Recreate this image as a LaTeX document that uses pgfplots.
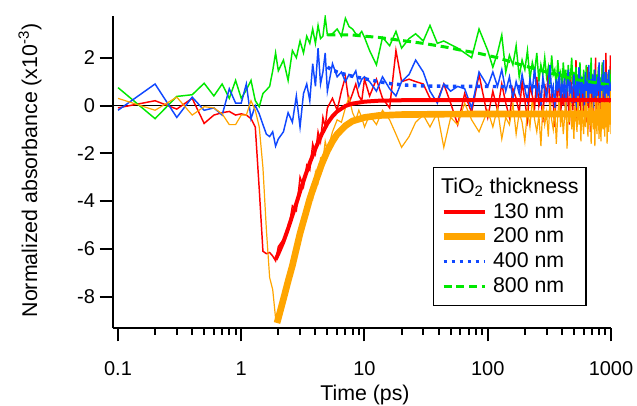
\documentclass[border=0pt]{standalone}
\usepackage{pgfplots}
\pgfplotsset{compat=1.18}
\usepackage{pgfplotstable}
\usepackage{fontspec}
\setmainfont{Liberation Sans}
\definecolor{cred}{RGB}{255,0,0}
\definecolor{corange}{RGB}{255,165,0}
\definecolor{cblue}{RGB}{16,72,255}
\definecolor{cgreen}{RGB}{0,232,0}

\pgfplotstableread{
t r o b g
0.1 -0.10 0.30 -0.20 0.75
0.2 0.20 -0.20 0.90 -0.55
0.3 -0.15 0.35 -0.50 0.38
0.4 0.30 -0.40 0.35 0.45
0.5 -0.75 -0.05 -0.20 0.93
0.6 -0.40 -0.10 -0.10 0.40
0.7 -0.30 -0.35 -0.40 0.90
0.8 -0.25 -0.80 0.70 0.30
0.9 -0.40 -0.80 0.10 1.05
1.0 -0.35 -0.40 0.10 0.30
1.1 -0.40 -0.40 0.90 0.65
1.2 -0.55 0.20 -0.55 1.05
1.3 -0.90 -0.20 0.00 0.20
1.4 -3.50 -0.90 -0.35 -0.05
1.5 -6.10 -2.60 -0.80 0.50
1.6 -6.20 -5.20 -1.20 0.65
1.7 -6.15 -7.20 -1.30 0.80
1.8 -6.30 -7.70 -1.10 1.45
1.9 -6.50 -8.90 -1.70 2.20
2.0 -5.90 -9.00 -1.40 1.45
2.2 -5.60 -8.20 -1.10 1.90
2.4 -5.30 -7.10 -0.30 1.05
2.6 -4.20 -6.90 -0.70 2.30
2.8 -4.40 -5.70 0.40 2.00
3.0 -3.00 -5.60 -0.90 2.70
3.2 -3.40 -4.70 0.50 2.20
3.4 -2.50 -4.50 0.90 2.90
3.6 -2.70 -3.60 0.20 2.60
3.8 -1.60 -3.90 1.75 3.20
4.0 -2.00 -2.80 0.80 2.60
4.2 -1.10 -3.20 2.40 3.35
4.4 -1.50 -2.20 0.90 2.80
4.6 -0.50 -2.30 1.40 2.90
4.8 -0.90 -1.50 2.20 3.70
5.0 -0.10 -1.90 0.60 2.95
5.5 0.30 -1.10 1.75 3.00
6.0 -0.20 -0.60 1.20 3.20
6.5 0.60 -0.70 1.40 2.90
7.0 1.20 -0.10 1.00 3.65
7.5 0.10 0.35 1.30 3.30
8.0 0.50 -0.30 1.20 3.20
8.5 0.90 -0.60 1.45 3.00
9.0 0.40 -0.20 0.80 2.95
9.5 0.20 -0.50 1.10 3.10
10 1.10 -0.90 1.20 2.85
11 0.40 -0.40 1.00 2.30
12.5 1.10 -0.80 0.60 1.70
14 0.30 -0.20 1.20 2.85
16 -0.10 -0.60 0.70 2.50
18 2.30 -1.20 0.40 3.10
20 1.00 -1.75 1.00 2.40
23 1.10 -1.30 1.30 2.80
26 1.00 -0.70 1.90 3.00
30 0.90 -0.40 1.40 2.70
34 0.30 -0.90 0.60 3.35
39 0.20 -0.30 0.10 2.60
44 0.90 -1.75 0.90 2.70
50 0.10 -0.50 0.60 2.55
57 -0.80 -0.80 0.80 2.40
65 0.50 0.10 0.70 2.20
74 -0.30 -0.60 -0.10 2.00
85 1.30 -1.10 1.40 3.20
100 -0.50 -0.20 0.80 2.30
110 0.6 -0.9 1.4 1.6
120 -0.2 -0.1 0.8 2.2
130 0.9 -1.4 1.5 2.95
140 0.1 -0.5 0.6 1.4
150 -0.5 -0.8 1.2 2.1
160 0.7 0.1 0.3 1.7
170 0.3 -1.2 1.0 2.5
180 -0.3 -0.3 0.5 1.2
190 1.0 -0.7 1.3 1.9
200 0.2 -1.5 0.7 1.5
210 -0.6 -0.2 0.2 2.3
220 0.8 -0.9 1.1 1.1
230 0.4 0.3 0.6 1.8
240 -0.1 -0.6 1.6 1.4
250 1.2 -1.1 0.4 2.2
260 0.0 -0.4 0.9 1.0
270 0.5 -1.7 0.0 1.7
280 -0.7 0.0 1.2 1.3
290 0.9 -0.8 0.7 2.0
300 0.3 -0.3 0.3 1.2
310 1.5 -1.3 1.0 1.6
320 -0.3 0.2 1.7 0.9
330 0.6 -0.6 0.5 2.1
340 0.1 -1.0 0.8 1.3
350 -0.9 -0.1 -0.1 1.5
360 0.8 -1.6 1.1 0.8
370 0.4 -0.4 0.6 1.9
380 1.3 0.4 1.4 1.2
390 -0.4 -0.9 0.2 1.4
400 0.5 -0.2 0.9 0.7
410 0.0 -1.2 0.5 1.8
420 1.1 -0.5 1.2 1.1
430 -0.5 0.3 -0.2 1.5
440 0.7 -1.8 0.8 0.6
450 0.2 -0.3 1.5 1.7
460 -0.8 -0.7 0.4 1.0
470 1.4 0.5 1.0 1.3
480 0.3 -1.0 0.1 2.0
490 -0.2 -0.4 0.7 0.9
500 0.9 -1.4 1.3 1.4
510 0.1 0.1 0.6 0.7
520 1.9 -0.6 -0.1 1.6
530 -0.6 -1.1 1.1 1.0
540 0.6 0.4 0.4 1.3
550 0.0 -0.8 1.6 0.5
560 1.0 -0.2 0.8 1.8
570 -1.0 -1.5 0.2 0.9
580 0.5 0.2 1.2 1.2
590 1.2 -0.7 0.5 0.6
600 -0.3 -1.2 0.9 1.5
610 0.8 0.0 -0.2 1.0
620 0.2 -0.9 1.4 0.4
630 -0.7 0.6 0.6 1.7
640 1.6 -0.5 1.0 0.8
650 0.4 -1.3 0.1 1.1
660 -0.2 -0.1 1.7 0.5
670 0.9 -0.8 0.7 1.4
680 -1.1 0.5 0.3 0.9
690 0.6 -1.6 1.1 2.0
700 1.3 -0.3 0.5 0.7
710 0.0 0.3 1.3 1.2
720 -0.5 -1.0 -0.1 0.4
730 1.0 -0.4 0.8 1.5
740 0.3 -1.7 1.5 0.8
750 2.0 0.2 0.4 1.1
760 -0.8 -0.6 0.9 0.3
770 0.7 -1.2 0.2 1.3
780 0.1 0.4 1.2 0.9
790 -0.4 -0.2 0.6 1.6
800 1.2 -1.4 1.8 0.6
810 0.5 0.1 0.3 1.0
820 -1.2 -0.8 1.0 0.4
830 0.9 -1.5 0.5 1.2
840 0.2 0.6 -0.2 0.8
850 1.7 -0.5 1.3 1.8
860 -0.6 -1.0 0.7 0.5
870 0.4 0.3 1.9 1.1
880 1.1 -0.7 0.4 0.7
890 -0.9 -1.3 0.9 1.4
900 0.6 0.2 0.1 0.3
910 2.2 -0.9 1.4 0.9
920 -0.3 0.5 0.6 1.3
930 0.8 -1.6 1.1 0.6
940 -1.0 -0.3 -0.1 1.0
950 1.4 0.4 0.8 0.4
960 0.2 -1.1 1.5 1.2
970 -0.5 0.1 0.3 0.8
980 1.0 -0.8 1.0 1.5
990 2.1 0.6 0.5 0.5
1000 -0.4 -1.2 0.8 0.9
}\rawdata

\pgfplotstableread{
t y
1.9 -6.45
2.0 -6.2
2.2 -5.7
2.4 -5.15
2.6 -4.6
2.8 -4.1
3.0 -3.6
3.3 -2.95
3.6 -2.4
4.0 -1.8
4.5 -1.2
5.0 -0.75
5.5 -0.45
6 -0.25
7 -0.02
8 0.08
10 0.16
13 0.2
20 0.22
50 0.22
1000 0.22
}\fitred

\pgfplotstableread{
t y
1.95 -9.1
2.0 -8.9
2.2 -8.1
2.4 -7.35
2.6 -6.7
2.8 -6.0
3.0 -5.35
3.3 -4.6
3.6 -3.9
4.0 -3.2
4.5 -2.45
5.0 -1.9
5.5 -1.5
6 -1.2
7 -0.85
8 -0.65
10 -0.5
13 -0.42
20 -0.38
50 -0.36
1000 -0.35
}\fitorange

\pgfplotstableread{
t y
5 1.6
6 1.4
7 1.3
8 1.22
10 1.12
13 1.0
17 0.9
22 0.85
30 0.82
50 0.8
1000 0.78
}\fitblue

\pgfplotstableread{
t y
5 2.95
8 2.95
10 2.9
13 2.85
20 2.72
30 2.6
45 2.45
60 2.32
85 2.18
120 2.0
200 1.65
300 1.4
500 1.1
1000 0.85
}\fitgreen

\begin{document}
\begin{tikzpicture}
\begin{axis}[
  at={(0,0)}, anchor=south west,
  scale only axis, width=373.5pt, height=234pt,
  xmode=log, xmin=0.0911, xmax=1000,
  ymin=-9.31, ymax=3.745,
  axis x line=bottom, axis y line=left,
  axis line style={-, line width=1.5pt, black},
  x axis line style={-}, y axis line style={-},
  tick align=outside,
  major tick length=10pt, minor tick length=5pt,
  every tick/.style={black, line width=1.5pt},
  xtick={0.1,1,10,100,1000},
  xticklabels={0.1,1,10,100,1000},
  minor xtick={0.2,0.3,0.4,0.5,0.6,0.7,0.8,0.9,2,3,4,5,6,7,8,9,20,30,40,50,60,70,80,90,200,300,400,500,600,700,800,900},
  ytick={-8,-6,-4,-2,0,2},
  yticklabels={-8,-6,-4,-2,0,2},
  /pgf/number format/assume math mode=true,
  tick label style={font=\fontsize{15}{18}\selectfont},
  xticklabel style={anchor=base, yshift=-25.5pt},
  yticklabel style={anchor=east},
  label style={font=\fontsize{16}{19}\selectfont},
  xlabel={Time (ps)},
  xlabel style={at={(axis description cs:0.506,-0.231)}, anchor=base},
  ylabel={Normalized absorbance (x10\textsuperscript{-3})},
  ylabel style={at={(axis description cs:-0.1667,0.505)}, anchor=center, rotate=0},
  legend image code/.code={\draw[#1] (0pt,0pt) -- (30.75pt,0pt);},
  reverse legend,
  legend cell align=left,
  legend style={at={(axis description cs:0.6426,0.516)}, anchor=north west,
    draw=black, line width=1.1pt, fill=white,
    font=\fontsize{16}{19}\selectfont,
    inner xsep=5pt, inner ysep=5.5pt, row sep=0pt, column sep=3pt,
    nodes={inner sep=0.75pt, text height=13pt, text depth=4pt}},
]
\addplot[black, line width=0.9pt, forget plot] coordinates {(0.0911,0) (1000,0)};
\addplot[cred, line width=1.1pt, forget plot] table[x=t, y=r] {\rawdata};
\addplot[cgreen, line width=1.1pt, forget plot] table[x=t, y=g] {\rawdata};
\addplot[cblue, line width=1.1pt, forget plot] table[x=t, y=b] {\rawdata};
\addplot[corange, line width=0.9pt, forget plot] table[x=t, y=o] {\rawdata};
\addplot[cgreen, line width=2.25pt, dash pattern=on 6pt off 3.5pt] table[x=t, y=y] {\fitgreen};
\addlegendentry{800 nm}
\addplot[cblue, line width=2.6pt, dash pattern=on 2.6pt off 3.4pt] table[x=t, y=y] {\fitblue};
\addlegendentry{400 nm}
\addplot[corange, line width=5pt] table[x=t, y=y] {\fitorange};
\addlegendentry{200 nm}
\addplot[cred, line width=3pt] table[x=t, y=y] {\fitred};
\addlegendentry{130 nm}
\addlegendimage{empty legend}
\addlegendentry{\hspace*{-39pt}TiO\textsubscript{2} thickness}
\end{axis}
\pgfresetboundingbox
\path[use as bounding box] (-84.75pt,-57.75pt) rectangle (393pt,246pt);
\end{tikzpicture}
\end{document}
